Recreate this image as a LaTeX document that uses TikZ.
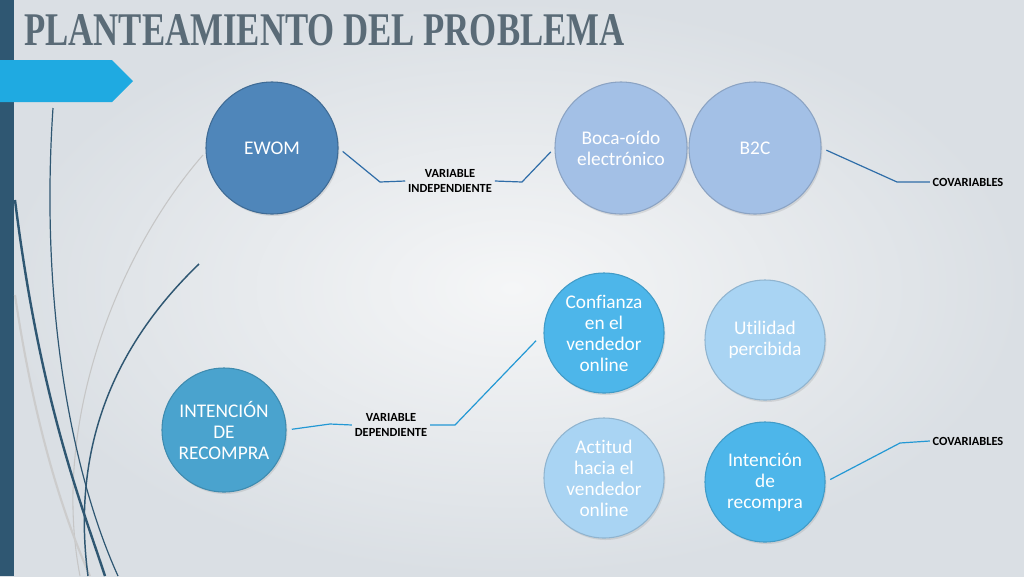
\documentclass[tikz,border=0pt]{standalone}
\usepackage{fontspec}
\setmainfont{Carlito}[Ligatures=NoCommon]
\newfontfamily\titlefont{Liberation Serif}
\usetikzlibrary{shadows}

\definecolor{bgin}{HTML}{F5F6F7}
\definecolor{bgout}{HTML}{DADFE4}
\definecolor{barblue}{HTML}{2F5772}
\definecolor{tagcyan}{HTML}{1FAAE1}
\definecolor{titlegray}{HTML}{5A6B77}
\definecolor{steel}{HTML}{4F86BA}
\definecolor{pale}{HTML}{A3C0E6}
\definecolor{sky}{HTML}{4DB6EA}
\definecolor{palesky}{HTML}{A9D4F3}
\definecolor{teal}{HTML}{4AA3CE}
\definecolor{lineblue}{HTML}{2F6DA8}
\definecolor{linesky}{HTML}{2398D4}

\tikzset{
  ball/.style={circle, minimum size=#1, inner sep=0pt, align=center, text=white,
    font=\fontsize{14.5}{15.75}\selectfont, line width=0.8pt,
    drop shadow={opacity=0.2, shadow xshift=1pt, shadow yshift=-1.5pt}},
  varlabel/.style={align=center, font=\fontsize{9.3}{10.8}\selectfont\bfseries, inner sep=2pt},
  conn/.style={lineblue, line width=0.9pt, shorten <=4pt},
  swoop/.style={barblue, line width=1.4pt}
}

\begin{document}
\begin{tikzpicture}[x=0.75pt, y=-0.75pt]
\useasboundingbox (0,0) rectangle (1024,576);
% background
\shade[inner color=bgin, outer color=bgout] (0,0) rectangle (1024,576);
\fill[barblue] (0,0) rectangle (14,576);
\fill[tagcyan] (0,60) -- (112,60) -- (133,81) -- (112,102) -- (0,102) -- cycle;

% swooping lines on the left
\draw[gray!45, line width=0.8pt] (203,155) .. controls (120,250) and (50,420) .. (80,576);
\draw[gray!40, line width=1.6pt] (15,295) .. controls (35,430) and (65,520) .. (90,576);
\draw[swoop, line width=0.9pt] (53,108) .. controls (40,300) and (70,470) .. (118,576);
\draw[swoop, line width=1.8pt] (15,200) .. controls (40,400) and (80,500) .. (105,576);
\draw[swoop, line width=1.1pt] (199,264) .. controls (120,340) and (70,440) .. (88,576);

% title
\node[anchor=west, inner sep=0pt, text=titlegray] (title) at (24,30)
  {\scalebox{0.705}[0.95]{\titlefont\bfseries\fontsize{37}{40}\selectfont PLANTEAMIENTO DEL PROBLEMA}};

% top row
\node[ball=99pt, fill=steel, draw=steel!80!black] (ewom) at (272,148) {EWOM};
\node[ball=99pt, fill=pale, draw=pale!85!black] (boca) at (621,148) {Boca-oído\\electrónico};
\node[ball=99pt, fill=pale, draw=pale!85!black] (b2c) at (755,148) {B2C};

% bottom block
\node[ball=93pt, fill=teal, draw=teal!85!black] (recompra) at (224,430) {INTENCIÓN\\DE\\RECOMPRA};
\node[ball=90pt, fill=sky, draw=sky!85!black] (confianza) at (604,333) {Confianza\\en el\\vendedor\\online};
\node[ball=90pt, fill=palesky, draw=palesky!85!black] (utilidad) at (765,340) {Utilidad\\percibida};
\node[ball=90pt, fill=palesky, draw=palesky!85!black] (actitud) at (604,478) {Actitud\\hacia el\\vendedor\\online};
\node[ball=90pt, fill=sky, draw=sky!85!black] (intencion) at (765,482) {Intención\\de\\recompra};

% labels
\node[varlabel] (indep) at (450,181) {VARIABLE\\INDEPENDIENTE};
\node[varlabel] (dep) at (391,425) {VARIABLE\\DEPENDIENTE};
\node[varlabel] (cova) at (968,182) {COVARIABLES};
\node[varlabel] (covb) at (968,441) {COVARIABLES};

% elbows
\coordinate (e1) at (380,182);
\coordinate (e2) at (522,182);
\coordinate (e3) at (897,182);
\coordinate (e4) at (330,424);
\coordinate (e5) at (455,425);
\coordinate (e6) at (900,443);

\draw[conn] (ewom.east) -- (e1) -- (indep.west);
\draw[conn, shorten <=0pt, shorten >=4pt] (indep.east) -- (e2) -- (boca.west);
\draw[conn] (b2c.east) -- (e3) -- (cova.west);
\draw[conn, linesky] (recompra.east) -- (e4) -- (dep.west);
\draw[conn, linesky, shorten <=0pt, shorten >=8pt] (dep.east) -- (e5) -- (confianza.west);
\draw[conn, linesky] (intencion.east) -- (e6) -- (covb.west);
\end{tikzpicture}
\end{document}
